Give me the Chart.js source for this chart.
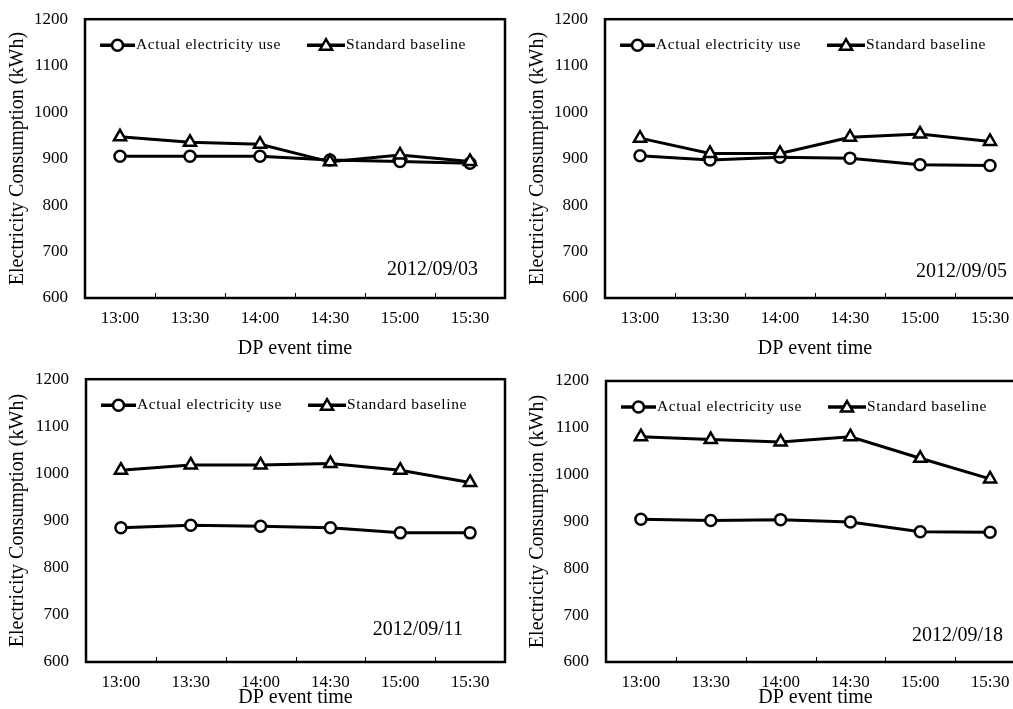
<!doctype html>
<html>
<head>
<meta charset="utf-8" />
<script src="https://cdn.jsdelivr.net/npm/chart.js@4/dist/chart.umd.min.js"></script>
<style>
  html, body { margin: 0; padding: 0; background: #fff; overflow: hidden; width: 1013px; height: 709px; }
  .panel { position: absolute; }
</style>
</head>
<body>
<script>
  // event times (x categories) and the y ticks
  const times = ["13:00", "13:30", "14:00", "14:30", "15:00", "15:30"];
  const yMin = 600, yMax = 1200, yStep = 100;
  const seriesNames = ["Actual electricity use", "Standard baseline"];

  // one pair of series per event day
  const dates = ["2012/09/03", "2012/09/05", "2012/09/11", "2012/09/18"];
  const actual0903 = [905, 905, 905, 897, 894, 890];
  const baseline0903 = [947, 935, 931, 893, 908, 894];
  const actual0905 = [906, 897, 903, 901, 887, 885];
  const baseline0905 = [944, 911, 911, 946, 953, 937];
  const actual0911 = [885, 890, 888, 885, 874, 874];
  const baseline0911 = [1007, 1018, 1018, 1021, 1007, 981];
  const actual0918 = [905, 902, 904, 899, 878, 877];
  const baseline0918 = [1081, 1075, 1070, 1081, 1035, 991];

  const actuals = [actual0903, actual0905, actual0911, actual0918];
  const baselines = [baseline0903, baseline0905, baseline0911, baseline0918];

  // where each panel sits on the page
  const layout = [
    { left: 0,   top: 0,   h: 360, padTop: 17, yW: 85, xH: 62, dateRight: 27, dateUp: 28 },
    { left: 520, top: 0,   h: 360, padTop: 17, yW: 85, xH: 62, dateRight: 18, dateUp: 26 },
    { left: 0,   top: 360, h: 349, padTop: 19, yW: 86, xH: 47, dateRight: 42, dateUp: 32 },
    { left: 520, top: 360, h: 349, padTop: 21, yW: 86, xH: 47, dateRight: 22, dateUp: 26 },
  ];

  const SERIF = "'Liberation Serif', 'DejaVu Serif', serif";

  function triangle(ctx, x, y, r) {
    let a = 0;
    ctx.beginPath();
    ctx.moveTo(x + Math.sin(a) * r, y - Math.cos(a) * r);
    a += 2 * Math.PI / 3;
    ctx.lineTo(x + Math.sin(a) * r, y - Math.cos(a) * r);
    a += 2 * Math.PI / 3;
    ctx.lineTo(x + Math.sin(a) * r, y - Math.cos(a) * r);
    ctx.closePath();
  }

  const frame = {
    id: "frame",
    afterDraw(chart, args, opts) {
      const { ctx, chartArea: a } = chart;
      const x = chart.scales.x;
      ctx.save();
      ctx.strokeStyle = "#000";
      ctx.lineWidth = 2.5;
      ctx.strokeRect(a.left, a.top, a.right - a.left, a.bottom - a.top);
      // inward ticks between categories
      ctx.lineWidth = 1;
      for (let i = 1; i < times.length; i++) {
        const px = Math.round((x.getPixelForValue(i - 1) + x.getPixelForValue(i)) / 2) + 0.5;
        ctx.beginPath();
        ctx.moveTo(px, a.bottom);
        ctx.lineTo(px, a.bottom - 5);
        ctx.stroke();
      }
      // legend inside the plot
      const ly = a.top + 26;
      const items = [
        { x0: a.left + 15, len: 35, style: "circle", label: seriesNames[0] },
        { x0: a.left + 222, len: 38, style: "triangle", label: seriesNames[1] },
      ];
      items.forEach(it => {
        ctx.lineWidth = 3.5;
        ctx.beginPath();
        ctx.moveTo(it.x0, ly);
        ctx.lineTo(it.x0 + it.len, ly);
        ctx.stroke();
        const mx = it.x0 + it.len / 2;
        ctx.fillStyle = "#fff";
        ctx.lineWidth = 2.5;
        if (it.style === "circle") {
          ctx.beginPath();
          ctx.arc(mx, ly, 5.5, 0, Math.PI * 2);
        } else {
          triangle(ctx, mx, ly + 1, 7);
        }
        ctx.fill();
        ctx.stroke();
        ctx.fillStyle = "#000";
        ctx.font = "15.5px " + SERIF;
        ctx.letterSpacing = "0.6px";
        ctx.textAlign = "left";
        ctx.textBaseline = "middle";
        ctx.fillText(it.label, it.x0 + it.len + 1, ly);
      });
      // date stamp
      ctx.letterSpacing = "0px";
      ctx.font = "20px " + SERIF;
      ctx.textAlign = "right";
      ctx.textBaseline = "middle";
      ctx.fillText(opts.date, a.right - opts.dateRight, a.bottom - opts.dateUp);
      ctx.restore();
    }
  };

  dates.forEach((date, k) => {
    const L = layout[k];
    const div = document.createElement("div");
    div.className = "panel";
    div.style.left = L.left + "px";
    div.style.top = L.top + "px";
    const canvas = document.createElement("canvas");
    canvas.width = 520;
    canvas.height = L.h;
    canvas.style.width = "520px";
    canvas.style.height = L.h + "px";
    div.append(canvas);
    document.body.append(div);

    new Chart(canvas, {
      type: "line",
      data: {
        labels: times,
        datasets: [
          {
            label: seriesNames[1], data: baselines[k],
            borderColor: "#000", borderWidth: 3, backgroundColor: "#fff",
            pointStyle: "triangle", pointRadius: 7, pointBorderWidth: 2.5,
            pointBackgroundColor: "#fff", pointBorderColor: "#000", tension: 0,
          },
          {
            label: seriesNames[0], data: actuals[k],
            borderColor: "#000", borderWidth: 3, backgroundColor: "#fff",
            pointStyle: "circle", pointRadius: 5.5, pointBorderWidth: 2.5,
            pointBackgroundColor: "#fff", pointBorderColor: "#000", tension: 0,
          },
        ],
      },
      options: {
        responsive: false,
        animation: false,
        events: [],
        layout: { padding: { top: L.padTop, right: 15, left: 0, bottom: 0 } },
        plugins: {
          legend: { display: false },
          tooltip: { enabled: false },
          frame: { date, dateRight: L.dateRight, dateUp: L.dateUp },
        },
        scales: {
          x: {
            offset: true,
            grid: { display: false, offset: true },
            border: { display: false },
            ticks: { color: "#000", padding: 2, font: { family: SERIF, size: 17 } },
            title: {
              display: true, text: "DP event time", color: "#000",
              font: { family: SERIF, size: 20, lineHeight: 1.1 },
              padding: { top: 0, bottom: 0 },
            },
            afterFit(s) { s.height = L.xH; },
          },
          y: {
            min: yMin, max: yMax,
            grid: { display: false },
            border: { display: false },
            ticks: {
              stepSize: yStep, color: "#000", padding: 9,
              font: { family: SERIF, size: 17 },
              callback: v => String(v),
            },
            title: {
              display: true, text: "Electricity Consumption (kWh)", color: "#000",
              font: { family: SERIF, size: 20, lineHeight: 1.1 },
              padding: { top: 7, bottom: 0 },
            },
            afterFit(s) { s.width = L.yW; },
          },
        },
      },
      plugins: [frame],
    });
  });
</script>
</body>
</html>
